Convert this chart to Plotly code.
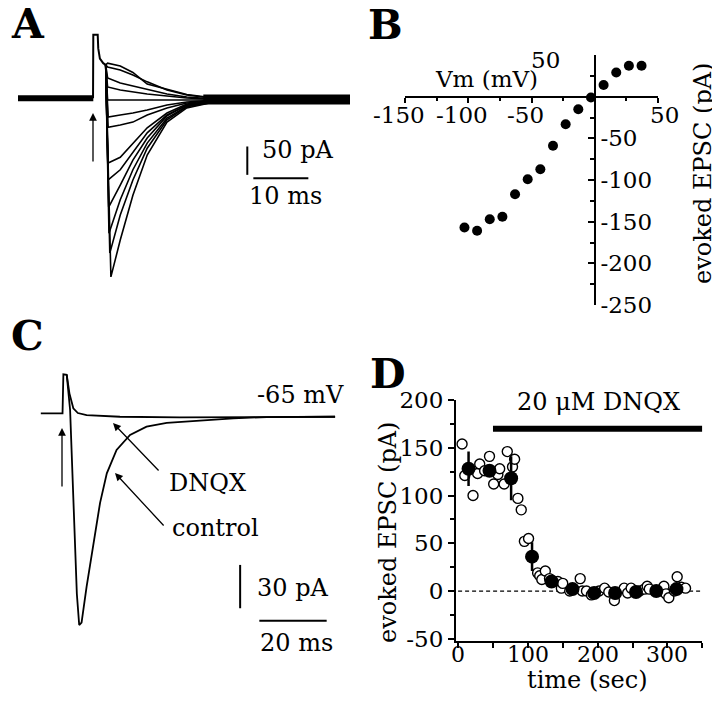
import plotly.graph_objects as go

# page body keeps its default 8 px margin, so the figure is drawn 8 px smaller
OFF = 8
W, H = 720 - OFF, 704 - OFF
FONT = "DejaVu Serif"

# ---- panel A: evoked currents at several holding potentials (ms, pA)
a_base_t = [-13.7, 0.0]
a_base_i = [0, 0]
a_art_t = [-0.05, 0.0, 0.8, 0.9, 1.2, 1.8, 2.25]
a_art_i = [0, 112, 112, 88, 70, 62, 59]
a_tail_t = [20.0, 46.7]
a_tail_i = [-2, -2]
a_peak_t = [2.6, 2.6, 2.6, 2.6, 2.6, 2.7, 2.7, 2.7, 2.7, 2.8, 2.85, 3.0, 3.2]
a_peak_i = [62, 55, 36, 20, -3, -33, -51, -114, -144, -192, -238, -273, -315]
a_grid_t = [4.9, 7.2, 9.8, 13.4, 17.0, 22.0, 30.0, 46.7]
a_sweeps = [
    [57, 45.5, 25, 16.4, 6.7, 0.5, -1.2, -1.2],
    [50, 41, 29, 14.6, 5.8, -0.4, -2, -1.2],
    [27, 21.7, 14.6, 7.6, 2.3, -1.2, -2, -1.2],
    [14.6, 11, 7.6, 4, 0.5, -2, -3, -1.2],
    [-3, -3, -2, -2, -2, -2, -3, -1.5],
    [-29.5, -26, -20.6, -11.8, -6.5, -3, -3, -2.5],
    [-47, -42, -29.5, -17, -8.3, -3.9, -3.5, -3],
    [-104, -79, -52, -26, -10, -4.8, -4, -3],
    [-126, -95, -61, -29.5, -12, -4.8, -4, -3],
    [-153, -109, -70, -31, -12, -4.8, -4, -3],
    [-179, -126, -79, -35, -14, -5.6, -4, -3],
    [-206, -144, -88, -38, -15, -6.5, -4, -3],
    [-250, -171, -100, -42, -17, -6.5, -4, -3],
]
a_vbar_t = [28.0, 28.0]
a_vbar_i = [-85, -135]      # 50 pA
a_hbar_t = [29.1, 39.1]     # 10 ms
a_hbar_i = [-141, -141]

# ---- panel B: I-V relation
b_vm = [-103, -93, -83, -73, -63, -53, -43, -33, -23, -13, -3, 7, 17, 27, 37]
b_epsc = [-157, -161, -147, -144, -117, -99, -87, -59, -33, -15, -1, 14, 29, 37, 37]
b_xticks = [-150, -100, -50, 50]
b_yticks = [-50, -100, -150, -200, -250]

# ---- panel C: control vs DNQX at -65 mV (ms, pA)
c_ctrl_t = [-6.5, -0.05, 0.2, 1.2, 2.2, 3.15, 4.2, 4.9, 5.6, 7.1, 9.1, 11.1, 13.1,
            16.0, 20.0, 24.9, 30.9, 40.8, 50.7, 60.6, 80.9]
c_ctrl_i = [0, 0, 27, 26.6, 2.3, -55, -125, -146.6, -145, -120, -90, -62, -41.6,
            -25.4, -15, -9.3, -6.7, -5.1, -3.5, -2.6, -2.4]
c_dnqx_t = [1.2, 2.0, 3.15, 4.5, 7.1, 17.0, 34.8, 55.6, 80.9]
c_dnqx_i = [26.6, 13.8, 3.5, 0.2, -1.2, -2.4, -2.8, -2.6, -2.4]
c_vbar_t = [52.7, 52.7]
c_vbar_i = [-105, -135]     # 30 pA
c_hbar_t = [58.4, 78.4]     # 20 ms
c_hbar_i = [-143.6, -143.6]

# ---- panel D: time course of DNQX block
d_open_t = [5.7, 9.6, 21.4, 28, 31, 38, 45, 51, 57, 59.6, 66, 70.5, 78, 81, 85.7, 90.5,
            95, 101, 114, 117, 120, 125, 131, 143, 148, 150, 160, 175, 178, 184, 191,
            202, 210, 216, 224, 226, 238, 243, 248, 260, 267, 271, 274, 291, 295, 298,
            302, 310, 314, 320, 326]
d_open_y = [154, 121, 100, 123, 133, 126, 141, 112, 122, 128, 112, 146, 130, 138, 97, 85,
            52, 55, 19, 16, 12, 21, 13, 10, 3, 8, 0, 13, 0, 0, -4,
            0, 3, -1, -10, -3, 3, -2, 3, 0, 2, 5, 2, 0, 5, -3,
            -7, 0, 15, 4, 3]
d_mean_t = [15, 45, 76, 106, 134, 164, 195, 225, 255, 284, 313]
d_mean_y = [128, 126, 118, 36, 10, 2, -2, -2, -1, 0, 2]
d_mean_err = [18, 5, 23, 15, 3, 2, 2, 2, 2, 2, 2]
d_xticks = [0, 100, 200, 300]
d_yticks = [-50, 0, 50, 100, 150, 200]
d_drug_t = [50, 350]
d_drug_y = [170, 170]
d_zero_t = [0, 350]
d_zero_y = [0, 0]

# panel B axis box (pixels) and range
B_X0, B_X1, B_RANGE = 405, 658, [-150, 50]


def fx(p):
    return (p - OFF) / W


def fy(p):
    return 1 - (p - OFF) / H


def line(x, y, ax, width=1.6, **kw):
    return go.Scatter(x=x, y=y, xaxis="x" + ax, yaxis="y" + ax, mode="lines",
                      line=dict(color="black", width=width, **kw), hoverinfo="skip")


def scaled(p0, p1, origin, scale, flip=False):
    if flip:
        return [(origin - p1) / scale, (origin - p0) / scale]
    return [(p0 - origin) / scale, (p1 - origin) / scale]


fig = go.Figure()

# A
fig.add_trace(line(a_base_t, a_base_i, "", width=6))
fig.add_trace(line(a_tail_t, a_tail_i, "", width=10))
fig.add_trace(line(a_art_t, a_art_i, "", width=2))
for pt, pi, sweep in zip(a_peak_t, a_peak_i, a_sweeps):
    fig.add_trace(line([a_art_t[-1], pt] + a_grid_t, [a_art_i[-1], pi] + sweep, "", width=1.6))
fig.add_trace(line(a_vbar_t, a_vbar_i, "", width=2))
fig.add_trace(line(a_hbar_t, a_hbar_i, "", width=2))

# B
fig.add_trace(go.Scatter(x=b_vm, y=b_epsc, xaxis="x2", yaxis="y2", mode="markers",
                         marker=dict(color="black", size=10), hoverinfo="skip"))

# C
fig.add_trace(line(c_ctrl_t, c_ctrl_i, "3", width=1.8))
fig.add_trace(line(c_dnqx_t, c_dnqx_i, "3", width=1.8))
fig.add_trace(line(c_vbar_t, c_vbar_i, "3", width=2))
fig.add_trace(line(c_hbar_t, c_hbar_i, "3", width=2))

# D
fig.add_trace(line(d_zero_t, d_zero_y, "4", width=1.3, dash="4px,3px"))
fig.add_trace(line(d_drug_t, d_drug_y, "4", width=6))
fig.add_trace(go.Scatter(x=d_open_t, y=d_open_y, xaxis="x4", yaxis="y4", mode="markers",
                         marker=dict(color="white", size=10, line=dict(color="black", width=1.4)),
                         hoverinfo="skip"))
fig.add_trace(go.Scatter(x=d_mean_t, y=d_mean_y, xaxis="x4", yaxis="y4", mode="markers",
                         marker=dict(color="black", size=14),
                         error_y=dict(type="data", array=d_mean_err, visible=True,
                                      thickness=2.5, width=0, color="black"),
                         hoverinfo="skip"))

tick_font = dict(family=FONT, size=23, color="black")
axis_common = dict(showline=True, linecolor="black", linewidth=2, showgrid=False,
                   zeroline=False, tickcolor="black", tickwidth=1.5, tickfont=tick_font,
                   fixedrange=True, automargin=False)

fig.update_layout(
    width=W, height=H, margin=dict(l=0, r=0, t=0, b=0, autoexpand=False),
    paper_bgcolor="white", plot_bgcolor="white", showlegend=False,
    xaxis=dict(domain=[fx(18), fx(350)], range=scaled(18, 350, 93.3, 5.5), visible=False),
    yaxis=dict(domain=[fy(290), fy(25)], range=scaled(25, 290, 98.3, 0.567, True),
               visible=False),
    xaxis3=dict(domain=[fx(30), fx(350)], range=scaled(30, 350, 62.7, 3.367), visible=False,
                anchor="y3"),
    yaxis3=dict(domain=[fy(660), fy(360)], range=scaled(360, 660, 413.3, 1.444, True),
                visible=False, anchor="x3"),
    xaxis2=dict(axis_common, domain=[fx(B_X0), fx(B_X1)], range=B_RANGE, anchor="free",
                position=fy(96.7), ticks="outside", ticklen=5,
                tickvals=b_xticks, showticklabels=False,
                minor=dict(ticks="outside", ticklen=3, tickvals=[-125, -75, -25, 25],
                           tickcolor="black")),
    yaxis2=dict(axis_common, domain=[fy(305), fy(55)], range=[-250, 50], anchor="free",
                position=fx(594.8), side="right", ticks="inside", ticklen=6,
                tickvals=b_yticks, ticktext=[str(v) for v in b_yticks],
                minor=dict(ticks="inside", ticklen=4,
                           tickvals=[25, -25, -75, -125, -175, -225], tickcolor="black")),
    xaxis4=dict(axis_common, domain=[fx(456), fx(702.3)], range=[-3, 350], anchor="y4",
                ticks="outside", ticklen=5, tickvals=d_xticks, showticklabels=False,
                minor=dict(ticks="outside", ticklen=5, tickvals=[50, 150, 250, 350],
                           tickcolor="black")),
    yaxis4=dict(axis_common, domain=[fy(640.7), fy(400)], range=[-52, 200], anchor="x4",
                ticks="outside", ticklen=6, tickvals=d_yticks,
                ticktext=[str(v) for v in d_yticks],
                minor=dict(ticks="outside", ticklen=4,
                           tickvals=[-25, 25, 75, 125, 175], tickcolor="black")),
)


def text(x, y, s, size=24, xanchor="center", angle=0, bold=False, xref="paper"):
    xp = x if xref != "paper" else fx(x)
    fig.add_annotation(x=xp, y=fy(y), xref=xref, yref="paper",
                       text=f"<b>{s}</b>" if bold else s,
                       showarrow=False, xanchor=xanchor, yanchor="middle", textangle=angle,
                       font=dict(family=FONT, size=size, color="black"))


def arrow(hx, hy, tx, ty):
    fig.add_annotation(x=fx(hx), y=fy(hy), xref="paper", yref="paper", text="", showarrow=True,
                       ax=tx - hx, ay=ty - hy, arrowhead=2, arrowsize=1.2, arrowwidth=1.3,
                       arrowcolor="black")


# x tick labels drawn closer to the axis than plotly's default
b_scale = (B_X1 - B_X0) / (B_RANGE[1] - B_RANGE[0])
for v in b_xticks:
    pos = B_X0 + (v - B_RANGE[0]) * b_scale + (-6 if v < 0 else 6)
    text(pos, 115, str(v), size=23)
for v in d_xticks:
    text(v, 654, str(v), size=22, xref="x4")

text(27.5, 24, "A", size=41, bold=True)
text(385, 25, "B", size=41, bold=True)
text(27, 336, "C", size=41, bold=True)
text(388, 374, "D", size=41, bold=True)

text(260, 150, "50 pA", xanchor="left")
text(247, 196, "10 ms", xanchor="left")
arrow(93, 113, 93, 163)

text(487, 79, "Vm (mV)", size=23)
text(562, 60, "50", size=23, xanchor="right")
text(703, 174, "evoked EPSC (pA)", angle=-90)

text(255, 395, "-65 mV", xanchor="left")
text(167, 483, "DNQX", xanchor="left")
text(170, 528, "control", xanchor="left")
text(255, 588, "30 pA", xanchor="left")
text(258, 643, "20 ms", xanchor="left")
arrow(62, 428, 62, 488)
arrow(113, 423, 160, 472)
arrow(115, 473, 165, 527)

text(598, 402, "20 \u03bcM DNQX")
text(388, 533, "evoked EPSC (pA)", angle=-90)
text(587, 680, "time (sec)")

fig.write_html("out.html")
